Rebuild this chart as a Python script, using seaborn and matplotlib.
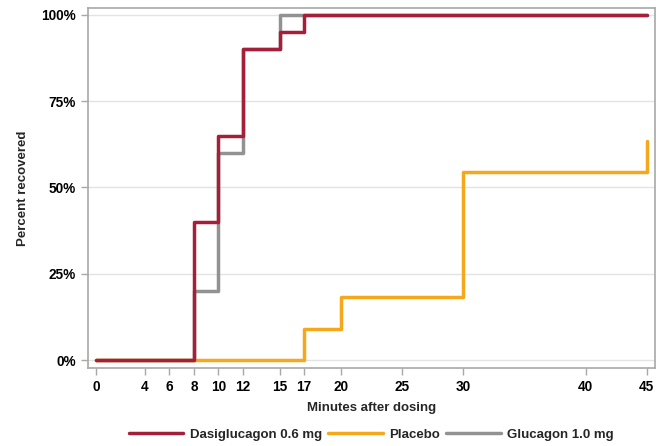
import pandas as pd
import seaborn as sns
import matplotlib.pyplot as plt

# Step data (minutes, percent recovered)
dasi_minutes = [0, 8, 10, 12, 15, 17, 45]
dasi_percent = [0, 40, 65, 90, 95, 100, 100]
placebo_minutes = [0, 17, 20, 30, 45]
placebo_percent = [0, 9.1, 18.2, 54.5, 63.6]
glucagon_minutes = [0, 8, 10, 12, 15, 45]
glucagon_percent = [0, 20, 60, 90, 100, 100]

series_names = ["Dasiglucagon 0.6 mg", "Placebo", "Glucagon 1.0 mg"]
series_colors = ["#A31F3A", "#F5A81C", "#929292"]
x_ticks = [0, 4, 6, 8, 10, 12, 15, 17, 20, 25, 30, 40, 45]
y_ticks = [0, 25, 50, 75, 100]

frames = []
for name, xs, ys in zip(series_names,
                        [dasi_minutes, placebo_minutes, glucagon_minutes],
                        [dasi_percent, placebo_percent, glucagon_percent]):
    frames.append(pd.DataFrame({"Minutes": xs, "Percent": ys, "Group": name}))
df = pd.concat(frames, ignore_index=True)

sns.set_style("white")
plt.rcParams["font.family"] = ["Liberation Sans", "DejaVu Sans"]
plt.rcParams["font.weight"] = "bold"

fig = plt.figure(figsize=(6.62, 4.46), dpi=100)
ax = fig.add_axes([0.133, 0.175, 0.856, 0.807])

palette = dict(zip(series_names, series_colors))
# draw gray first, then orange, red on top
draw_order = ["Glucagon 1.0 mg", "Placebo", "Dasiglucagon 0.6 mg"]
handles = {}
for z, name in enumerate(draw_order):
    sub = df[df["Group"] == name]
    sns.lineplot(data=sub, x="Minutes", y="Percent", ax=ax, color=palette[name],
                 drawstyle="steps-post", estimator=None, linewidth=2.5,
                 label=name, zorder=3 + z)
    handles[name] = ax.lines[-1]

ax.set_xlim(-0.65, 45.65)
ax.set_ylim(-2.3, 102)
ax.set_xticks(x_ticks)
ax.set_yticks(y_ticks)
ax.set_yticklabels([f"{v}%" for v in y_ticks])
ax.yaxis.grid(True, color="#e3e3e3", linewidth=1, zorder=0)
ax.xaxis.grid(False)

for sp in ax.spines.values():
    sp.set_color("#a8a8a8")
    sp.set_linewidth(1.2)
ax.tick_params(axis="both", direction="out", length=5, width=1, color="#a8a8a8",
               labelsize=9.8, labelcolor="black", bottom=True, left=True)
for lab in ax.get_xticklabels() + ax.get_yticklabels():
    lab.set_fontweight("bold")

ax.set_xlabel("Minutes after dosing", fontsize=9.5, fontweight="bold", labelpad=6)
ax.set_ylabel("Percent recovered", fontsize=9.5, fontweight="bold", labelpad=9)

ax.get_legend().remove()
# legend centred under the axes, not the figure
leg = fig.legend([handles[n] for n in series_names], series_names,
                 loc="lower center", bbox_to_anchor=(0.561, -0.015), ncol=3,
                 frameon=False, fontsize=9.5, handlelength=4.1, columnspacing=0.5,
                 handletextpad=0.5)
for t in leg.get_texts():
    t.set_fontweight("bold")

fig.savefig("out.png", dpi=100)
